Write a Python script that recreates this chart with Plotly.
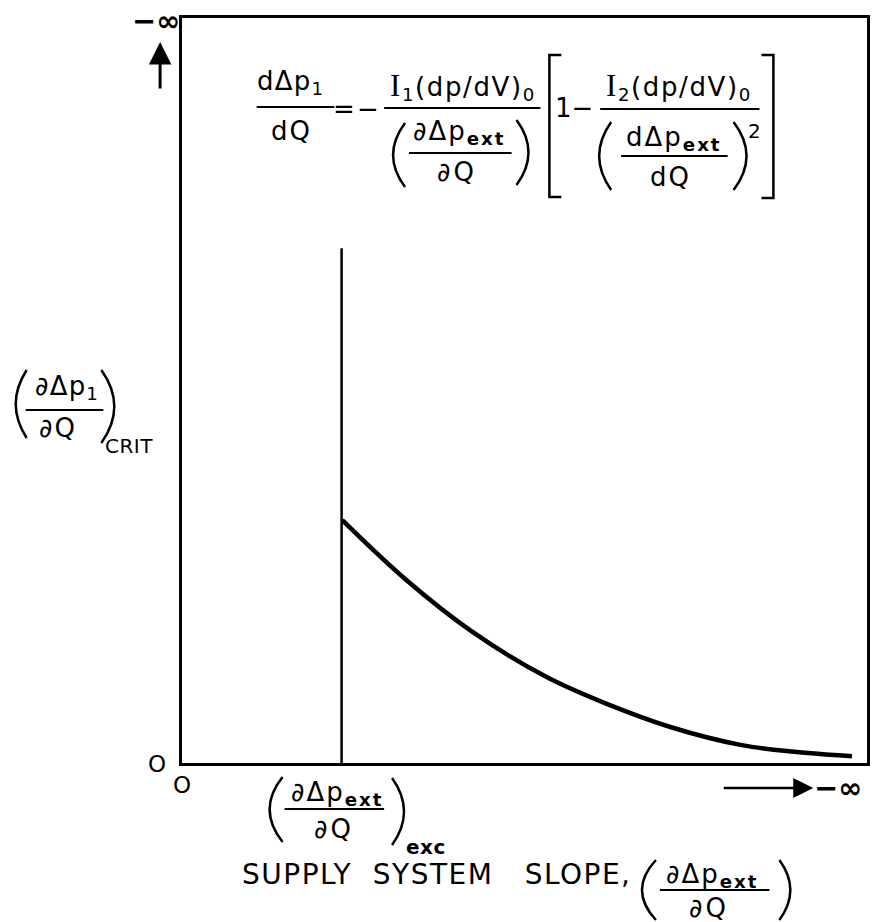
import plotly.graph_objects as go

# Supply-system slope runs from 0 (left) toward −∞ (right); arbitrary units 0–100
x_exc = 23.3            # excitation slope (∂Δp_ext/∂Q)_exc
exc_line_top = 69.1     # height of the vertical marker at the excitation slope
slope_x = [23.4, 32.7, 42.4, 53.3, 62.1, 71.4, 81.7, 89.4, 97.8]
crit_y = [32.6, 24.6, 17.6, 11.5, 7.9, 4.8, 2.4, 1.5, 0.9]

W, H = 873, 922
L, R, T, B = 182, 870, 18, 763   # plot-area edges in page pixels
FONT = "DejaVu Sans"
SERIF_I = "<span style=\"font-family:'Liberation Serif';font-size:31px\">I</span>"


def X(p):
    return (p - L) / (R - L)


def Y(p):
    return (B - p) / (B - T)


fig = go.Figure()

fig.add_trace(go.Scatter(
    x=[x_exc, x_exc], y=[0, exc_line_top], mode="lines",
    line=dict(color="black", width=2.5), hoverinfo="skip", showlegend=False))
fig.add_trace(go.Scatter(
    x=slope_x, y=crit_y, mode="lines",
    line=dict(color="black", width=4.5, shape="spline", smoothing=1.0),
    hoverinfo="skip", showlegend=False))


def label(x, y, text, size=26, anchor="center", spacing=1.2):
    if spacing:
        text = f'<span style="letter-spacing:{spacing}px">{text}</span>'
    fig.add_annotation(x=X(x), y=Y(y), xref="paper", yref="paper", text=text,
                       showarrow=False, xanchor=anchor, yanchor="middle",
                       font=dict(family=FONT, size=size, color="black"))


def bar(x0, x1, y, w=2.2):
    fig.add_shape(type="line", xref="paper", yref="paper",
                  x0=X(x0), x1=X(x1), y0=Y(y), y1=Y(y),
                  line=dict(color="black", width=w))


def paren(x_in, x_out, y0, y1, w=2.5):
    xc = 2 * x_out - x_in
    path = (f"M {X(x_in)},{Y(y0)} Q {X(xc)},{Y((y0 + y1) / 2)} "
            f"{X(x_in)},{Y(y1)}")
    fig.add_shape(type="path", xref="paper", yref="paper", path=path,
                  line=dict(color="black", width=w))


def bracket(x_edge, x_tip, y0, y1, w=2.5):
    path = (f"M {X(x_tip)},{Y(y0)} L {X(x_edge)},{Y(y0)} "
            f"L {X(x_edge)},{Y(y1)} L {X(x_tip)},{Y(y1)}")
    fig.add_shape(type="path", xref="paper", yref="paper", path=path,
                  line=dict(color="black", width=w))


# Governing relation at the top of the frame
label(291, 82, "dΔp<sub>1</sub>")
bar(257, 335, 107)
label(292, 131, "dQ", spacing=2)
label(345, 109, "=", spacing=0)
label(369, 109, "−", spacing=0)
label(464, 86, SERIF_I + "<sub>1</sub>(dp/dV)<sub>0</sub>", spacing=1.6)
bar(385, 542, 108)
paren(406, 394, 123, 187)
label(461, 132, "∂Δp<sub><b>ext</b></sub>", spacing=2)
bar(410, 513, 153)
label(458, 172, "∂Q", spacing=3)
paren(518, 530, 120, 185)
bracket(551, 563, 55, 197)
label(576, 108, "1−", spacing=0)
label(681, 86, SERIF_I + "<sub>2</sub>(dp/dV)<sub>0</sub>", spacing=1.6)
bar(602, 762, 109)
paren(613, 601, 122, 190)
label(676, 138, "dΔp<sub><b>ext</b></sub>", spacing=2)
bar(623, 730, 156)
label(673, 177, "dQ", spacing=2)
paren(736, 749, 122, 190)
label(757, 131, "2", size=20, spacing=0)
bracket(776, 764, 55, 198)

# Vertical-axis label
paren(26, 15, 370, 438)
label(66, 388, "∂Δp<sub>1</sub>")
bar(25, 103, 410)
label(57, 428, "∂Q", spacing=2)
paren(101, 114, 370, 443)
label(103, 446, "CRIT", size=20, anchor="left", spacing=0.5)

# −∞ direction markers
label(156, 21, "<b>−∞</b>", size=29, spacing=0)
fig.add_annotation(x=X(160), y=Y(42), xref="paper", yref="paper", text="",
                   showarrow=True, ax=0, ay=48, arrowhead=2, arrowsize=1.5,
                   arrowwidth=3, arrowcolor="black")
fig.add_annotation(x=X(816), y=Y(788), xref="paper", yref="paper", text="",
                   showarrow=True, ax=-91, ay=0, arrowhead=2, arrowsize=1.6,
                   arrowwidth=2.5, arrowcolor="black")
label(841, 788, "<b>−∞</b>", size=29, spacing=0)

# Origin marks
label(157, 764, "O", size=23, spacing=0)
label(182, 785, "O", size=23, spacing=0)

# Excitation slope label under the vertical marker
paren(283, 270, 777, 842)
label(338, 793, "∂Δp<sub><b>ext</b></sub>", spacing=2)
bar(285, 385, 809)
label(335, 829, "∂Q", spacing=3)
paren(393, 405, 778, 845)
label(405, 847, "<b>exc</b>", size=20, anchor="left", spacing=0.5)

# Horizontal-axis title
label(636, 874, "SUPPLY\u00a0 SYSTEM\u00a0\u00a0 SLOPE,", size=28,
      anchor="right", spacing=1.5)
paren(658, 644, 860, 920)
label(715, 875, "∂Δp<sub><b>ext</b></sub>", spacing=2)
bar(662, 772, 890)
label(711, 908, "∂Q", spacing=3)
paren(782, 793, 860, 920)

axis_style = dict(showline=True, mirror=True, linecolor="black", linewidth=3,
                  showgrid=False, zeroline=False, showticklabels=False,
                  ticks="", fixedrange=True)
fig.update_xaxes(range=[0, 100], **axis_style)
fig.update_yaxes(range=[0, 100], **axis_style)

fig.update_layout(
    width=W, height=H,
    margin=dict(l=L, r=W - R, t=T, b=H - B),
    paper_bgcolor="white", plot_bgcolor="white",
    font=dict(family=FONT, color="black"),
    showlegend=False,
)

fig.write_html("out.html")
